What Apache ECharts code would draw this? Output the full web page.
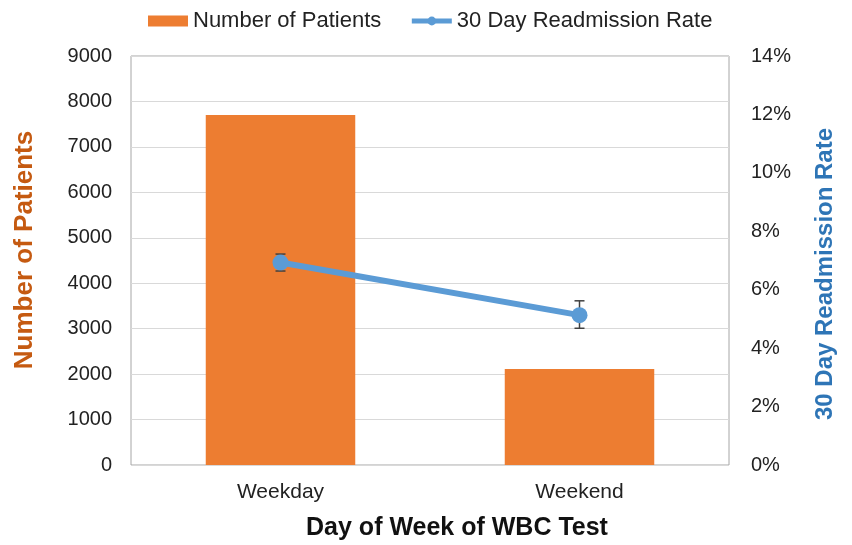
<!DOCTYPE html>
<html>
<head>
<meta charset="utf-8">
<script src="https://cdn.jsdelivr.net/npm/echarts@6/dist/echarts.min.js"></script>
<style>
  html, body { margin: 0; padding: 0; background: #fff; }
  #chart { width: 852px; height: 545px; }
</style>
</head>
<body>
<div id="chart"></div>
<script>
const days = ['Weekday', 'Weekend']
const patients = [7700, 2110]
const readmitRate = [6.93, 5.13]
const rateLow = [6.64, 4.68]
const rateHigh = [7.22, 5.62]

const font = '"Liberation Sans", Arial, sans-serif'
const chart = echarts.init(document.getElementById('chart'))

const errorData = days.map((d, i) => [i, rateLow[i], rateHigh[i]])

chart.setOption({
  animation: false,
  textStyle: { fontFamily: font },
  legend: {
    top: 5,
    left: 143,
    itemWidth: 40,
    itemHeight: 11,
    itemGap: 28,
    textStyle: { fontSize: 22, color: '#222', fontFamily: font },
    data: [
      { name: 'Number of Patients', icon: 'rect' },
      { name: '30 Day Readmission Rate', lineStyle: { width: 5 } }
    ]
  },
  grid: {
    left: 131, right: 123, top: 56, bottom: 80,
    outerBoundsMode: 'none',
    containLabel: false,
    show: true, borderColor: '#a6a6a6', borderWidth: 1
  },
  xAxis: {
    type: 'category',
    data: days,
    axisLine: { show: false },
    axisTick: { show: false },
    axisLabel: { fontSize: 21, color: '#222', margin: 17 },
    name: 'Day of Week of WBC Test',
    nameLocation: 'middle',
    nameGap: 51,
    nameTextStyle: { fontSize: 25, fontWeight: 'bold', color: '#111', padding: [0, 0, 0, 54] }
  },
  yAxis: [
    {
      type: 'value',
      min: 0, max: 9000, interval: 1000,
      axisLine: { show: false },
      axisTick: { show: false },
      splitLine: { lineStyle: { color: '#d9d9d9' } },
      axisLabel: { fontSize: 20, color: '#222', margin: 19, formatter: v => String(v) },
      name: 'Number of Patients',
      nameLocation: 'middle',
      nameRotate: 90,
      nameGap: 93,
      nameTextStyle: { fontSize: 26, fontWeight: 'bold', color: '#c55a11', padding: [0, 0, 0, 21] }
    },
    {
      type: 'value',
      position: 'right',
      min: 0, max: 14, interval: 2,
      axisLine: { show: false },
      axisTick: { show: false },
      splitLine: { show: false },
      axisLabel: { fontSize: 20, color: '#222', margin: 22, formatter: '{value}%' },
      name: '30 Day Readmission Rate',
      nameLocation: 'middle',
      nameRotate: 90,
      nameGap: 84,
      nameTextStyle: { fontSize: 24, fontWeight: 'bold', color: '#2e75b6', padding: [0, 27, 0, 0] }
    }
  ],
  series: [
    {
      name: 'Number of Patients',
      type: 'bar',
      data: patients,
      barWidth: '50%',
      itemStyle: { color: '#ed7d31' }
    },
    {
      name: 'error',
      type: 'custom',
      yAxisIndex: 1,
      z: 3,
      data: errorData,
      renderItem: function (params, api) {
        const x = api.value(0)
        const lo = api.coord([x, api.value(1)])
        const hi = api.coord([x, api.value(2)])
        const half = 5
        const style = { stroke: '#404040', lineWidth: 1.5 }
        return {
          type: 'group',
          children: [
            { type: 'line', shape: { x1: lo[0], y1: lo[1], x2: hi[0], y2: hi[1] }, style: style },
            { type: 'line', shape: { x1: lo[0] - half, y1: lo[1], x2: lo[0] + half, y2: lo[1] }, style: style },
            { type: 'line', shape: { x1: hi[0] - half, y1: hi[1], x2: hi[0] + half, y2: hi[1] }, style: style }
          ]
        }
      }
    },
    {
      name: '30 Day Readmission Rate',
      type: 'line',
      yAxisIndex: 1,
      z: 4,
      data: readmitRate,
      symbol: 'circle',
      symbolSize: 16,
      lineStyle: { color: '#5b9bd5', width: 6 },
      itemStyle: { color: '#5b9bd5' }
    }
  ]
})
</script>
</body>
</html>
